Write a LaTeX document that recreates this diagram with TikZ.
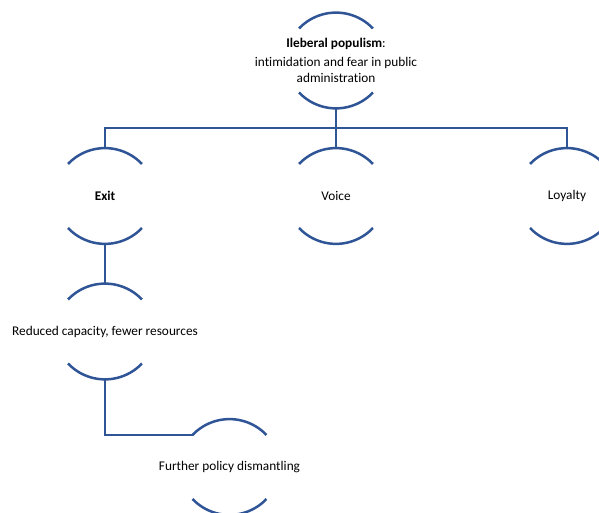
\documentclass[tikz,border=0pt]{standalone}
\usepackage{fontspec}
\setmainfont{Carlito}[Ligatures=NoCommon]
\definecolor{arcblue}{RGB}{47,85,151}
\begin{document}
\begin{tikzpicture}[x=1pt,y=1pt,
  arcnode/.style={rectangle,minimum width=74pt,minimum height=96pt,inner sep=0pt,
    font=\fontsize{13.3}{16}\selectfont,align=center},
  arcline/.style={draw=arcblue,line width=2.5pt},
  conn/.style={draw=arcblue,line width=2.5pt}]
\useasboundingbox (0,0) rectangle (599,513);
% nodes (y up = 513 - image y)
\node[arcnode] (top) at (336,452.5) {\textbf{Ileberal populism}:\\[3pt]intimidation and fear in public\\administration};
\node[arcnode] (exit) at (105,317) {\textbf{Exit}};
\node[arcnode] (voice) at (336,317) {Voice};
\node[arcnode] (loyalty) at (567,317) {Loyalty};
\node[arcnode] (reduced) at (105,181.5) {Reduced capacity, fewer resources};
\node[arcnode] (further) at (229.5,46) {Further policy dismantling};
% arcs
\foreach \n in {top,exit,voice,loyalty,reduced,further}{
  \draw[arcline] ([shift={(-37pt,32pt)}]\n.center) arc[start angle=136.5,end angle=43.5,radius=51pt];
  \draw[arcline] ([shift={(-37pt,-32pt)}]\n.center) arc[start angle=223.5,end angle=316.5,radius=51pt];
}
\coordinate (fin) at ([shift={(-37pt,32pt)}]further.center);
% connectors
\draw[conn] (top.south) |- ([yshift=20pt]exit.north) -- (exit.north);
\draw[conn] (top.south) |- ([yshift=20pt]loyalty.north) -- (loyalty.north);
\draw[conn] (top.south) -- (voice.north);
\draw[conn] (exit.south) -- (reduced.north);
\draw[conn] (reduced.south) |- (fin);
\end{tikzpicture}
\end{document}
